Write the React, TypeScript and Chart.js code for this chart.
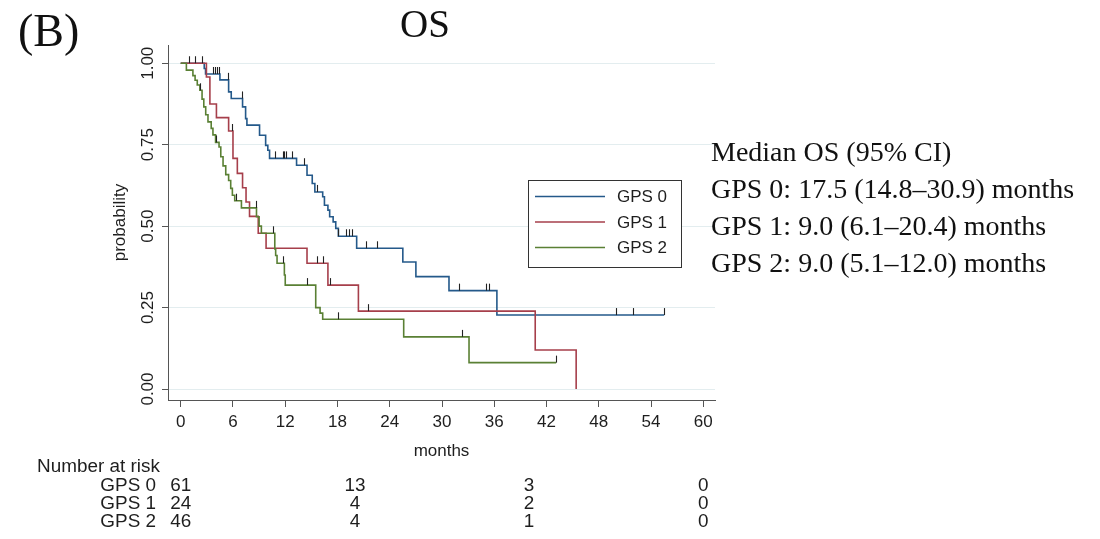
import React, { useEffect, useRef } from 'react';
import { Chart, registerables } from 'chart.js';

Chart.register(...registerables);

const SANS = "'Liberation Sans', Arial, sans-serif";
const SERIF = "'Liberation Serif', 'Times New Roman', serif";
const FS = 17;
const RISK_FS = 17.5;
const RISK_SX = 1.08;

// ---------- data ----------
const seriesNames = ['GPS 0', 'GPS 1', 'GPS 2'];

const gps0Times = [0, 2.7, 2.85, 4.5, 5.5, 5.8, 7.1, 7.45, 7.6, 9.05, 9.75, 10.0, 10.2, 13.3, 14.5, 15.1, 15.4, 16.3, 16.5, 16.9, 17.1, 17.5, 17.8, 18.1, 20.2, 25.5, 27.0, 30.8, 36.3];
const gps0Surv = [1, 0.984, 0.967, 0.949, 0.912, 0.892, 0.866, 0.83, 0.81, 0.779, 0.748, 0.733, 0.708, 0.687, 0.656, 0.631, 0.605, 0.59, 0.564, 0.549, 0.529, 0.513, 0.493, 0.469, 0.432, 0.39, 0.345, 0.302, 0.227];
const gps0End = 55.5;
const gps0Censor = [0.95, 1.6, 2.4, 3.7, 3.95, 4.15, 4.35, 5.4, 7.0, 10.8, 11.7, 11.9, 12.1, 12.8, 14.2, 15.6, 18.1, 19.0, 19.3, 19.7, 21.3, 22.5, 32.0, 35.1, 35.4, 50.0, 51.9, 55.5];

const gps1Times = [0, 2.95, 3.35, 4.1, 5.5, 6.0, 6.5, 7.1, 7.5, 7.9, 8.9, 9.8, 14.5, 16.9, 20.4, 40.7, 45.4];
const gps1Surv = [1, 0.958, 0.875, 0.833, 0.792, 0.708, 0.662, 0.618, 0.574, 0.53, 0.478, 0.432, 0.386, 0.319, 0.239, 0.12, 0];
const gps1End = 45.4;
const gps1Censor = [5.9, 15.6, 16.3, 17.1, 21.5];

const gps2Times = [0, 0.65, 1.4, 1.65, 1.9, 2.2, 2.45, 2.65, 2.87, 3.13, 3.5, 3.7, 4.0, 4.4, 4.6, 4.86, 5.17, 5.5, 5.74, 5.93, 6.2, 6.97, 8.7, 9.0, 9.26, 10.8, 10.9, 11.06, 11.9, 12.0, 15.5, 16.0, 16.3, 25.6, 33.1];
const gps2Surv = [1, 0.979, 0.962, 0.948, 0.933, 0.917, 0.89, 0.866, 0.842, 0.82, 0.8, 0.78, 0.757, 0.743, 0.713, 0.685, 0.658, 0.64, 0.616, 0.595, 0.578, 0.556, 0.529, 0.5, 0.478, 0.43, 0.41, 0.386, 0.35, 0.319, 0.25, 0.233, 0.214, 0.16, 0.081];
const gps2End = 43.1;
const gps2Censor = [2.25, 4.1, 6.4, 8.65, 10.6, 11.8, 14.5, 18.1, 32.3, 43.1];

const xTicks = [0, 6, 12, 18, 24, 30, 36, 42, 48, 54, 60];
const xTickLabels = ['0', '6', '12', '18', '24', '30', '36', '42', '48', '54', '60'];
const yTicks = [0, 0.25, 0.5, 0.75, 1];
const yTickLabels = ['0.00', '0.25', '0.50', '0.75', '1.00'];

const riskTimes = [0, 20, 40, 60];
const riskGps0 = [61, 13, 3, 0];
const riskGps1 = [24, 4, 2, 0];
const riskGps2 = [46, 4, 1, 0];

const medianLines = [
  'Median OS (95% CI)',
  'GPS 0: 17.5 (14.8–30.9) months',
  'GPS 1: 9.0 (6.1–20.4) months',
  'GPS 2: 9.0 (5.1–12.0) months',
];

// ---------- styles ----------
const colors = ['#24598a', '#a63f4b', '#5a8034'];
const TEXT = '#1e1e1e';
const AXIS = '#555555';

const groups = [
  { times: gps0Times, surv: gps0Surv, end: gps0End, censor: gps0Censor, risk: riskGps0 },
  { times: gps1Times, surv: gps1Surv, end: gps1End, censor: gps1Censor, risk: riskGps1 },
  { times: gps2Times, surv: gps2Surv, end: gps2End, censor: gps2Censor, risk: riskGps2 },
];

function survAt(times: number[], surv: number[], t: number) {
  let v = surv[0];
  for (let i = 0; i < times.length; i++) {
    if (times[i] <= t) v = surv[i];
  }
  return v;
}

const censorPlugin = {
  id: 'censorMarks',
  afterDatasetsDraw(chart: any) {
    const { ctx, scales } = chart;
    ctx.save();
    ctx.strokeStyle = '#222';
    ctx.lineWidth = 1.1;
    groups.forEach((g) => {
      g.censor.forEach((t) => {
        const px = Math.round(scales.x.getPixelForValue(t)) + 0.5;
        const py = scales.y.getPixelForValue(survAt(g.times, g.surv, t));
        ctx.beginPath();
        ctx.moveTo(px, py - 7);
        ctx.lineTo(px, py);
        ctx.stroke();
      });
    });
    ctx.restore();
  },
};

const legendPlugin = {
  id: 'boxLegend',
  afterDraw(chart: any) {
    const { ctx } = chart;
    const left = 528, top = 180, w = 153, h = 87;
    ctx.save();
    ctx.fillStyle = '#ffffff';
    ctx.fillRect(left, top, w, h);
    ctx.strokeStyle = '#333';
    ctx.lineWidth = 1;
    ctx.strokeRect(left + 0.5, top + 0.5, w, h);
    ctx.font = `${FS}px ${SANS}`;
    ctx.textBaseline = 'middle';
    ctx.textAlign = 'left';
    seriesNames.forEach((name, i) => {
      const y = top + 16.5 + i * 25.5;
      ctx.strokeStyle = colors[i];
      ctx.lineWidth = 1.5;
      ctx.beginPath();
      ctx.moveTo(left + 7, y);
      ctx.lineTo(left + 77, y);
      ctx.stroke();
      ctx.fillStyle = TEXT;
      ctx.fillText(name, left + 89, y + 1);
    });
    ctx.restore();
  },
};

function stretchedText(ctx: CanvasRenderingContext2D, text: string, x: number, y: number, align: CanvasTextAlign) {
  ctx.save();
  ctx.translate(x, y);
  ctx.scale(RISK_SX, 1);
  ctx.textAlign = align;
  ctx.fillText(text, 0, 0);
  ctx.restore();
}

const riskPlugin = {
  id: 'riskTable',
  afterDraw(chart: any) {
    const { ctx, scales } = chart;
    ctx.save();
    ctx.font = `${RISK_FS}px ${SANS}`;
    ctx.fillStyle = TEXT;
    ctx.textBaseline = 'middle';
    stretchedText(ctx, 'Number at risk', 37, 467, 'left');
    groups.forEach((g, i) => {
      const y = 486 + i * 18;
      stretchedText(ctx, seriesNames[i], 156, y, 'right');
      g.risk.forEach((n, j) => {
        stretchedText(ctx, String(n), scales.x.getPixelForValue(riskTimes[j]), y, 'center');
      });
    });
    ctx.restore();
  },
};

export default function App() {
  const ref = useRef<HTMLCanvasElement | null>(null);

  useEffect(() => {
    if (!ref.current) return;
    const datasets = groups.map((g, i) => ({
      label: seriesNames[i],
      data: [
        ...g.times.map((t, k) => ({ x: t, y: g.surv[k] })),
        { x: g.end, y: g.surv[g.surv.length - 1] },
      ],
      borderColor: colors[i],
      borderWidth: 1.6,
      pointRadius: 0,
      fill: false,
      stepped: 'before' as const,
      order: 3 - i,
    }));

    const chart = new Chart(ref.current, {
      type: 'line',
      data: { datasets },
      plugins: [censorPlugin, legendPlugin, riskPlugin],
      options: {
        animation: false,
        responsive: false,
        events: [],
        layout: { padding: { left: 100, top: 45, right: 385, bottom: 77 } },
        plugins: { legend: { display: false }, tooltip: { enabled: false }, title: { display: false } },
        scales: {
          x: {
            type: 'linear',
            min: -1.46,
            max: 61.34,
            afterBuildTicks: (s: any) => { s.ticks = xTicks.map((v) => ({ value: v })); },
            afterFit: (s: any) => { s.height = 62; },
            ticks: {
              autoSkip: false,
              maxRotation: 0,
              padding: 5,
              color: TEXT,
              font: { family: SANS, size: FS },
              callback: (_v: any, i: number) => xTickLabels[i],
            },
            grid: { drawOnChartArea: false, drawTicks: true, tickLength: 7, tickColor: AXIS, tickWidth: 1 },
            border: { display: true, color: AXIS, width: 1 },
            title: {
              display: true,
              text: 'months',
              color: TEXT,
              font: { family: SANS, size: FS, lineHeight: 1.2 },
              padding: { top: 0, bottom: 0 },
            },
          },
          y: {
            type: 'linear',
            min: -0.0337,
            max: 1.056,
            afterBuildTicks: (s: any) => { s.ticks = yTicks.map((v) => ({ value: v })); },
            afterFit: (s: any) => { s.width = 68; },
            ticks: {
              autoSkip: false,
              minRotation: 90,
              maxRotation: 90,
              crossAlign: 'center',
              padding: -2.5,
              color: TEXT,
              font: { family: SANS, size: FS },
              callback: (_v: any, i: number) => yTickLabels[i],
            },
            grid: { color: '#e3edef', lineWidth: 1, drawTicks: true, tickLength: 6, tickColor: AXIS, tickWidth: 1 },
            border: { display: true, color: AXIS, width: 1 },
            title: {
              display: true,
              text: 'probability',
              color: TEXT,
              font: { family: SANS, size: FS, lineHeight: 1.2 },
              padding: { top: 10, bottom: 0 },
            },
          },
        },
      },
    } as any);
    return () => chart.destroy();
  }, []);

  return (
    <div style={{ position: 'relative', left: -8, top: -8, width: 1100, height: 539, background: '#fff', overflow: 'hidden' }}>
      <canvas ref={ref} width={1100} height={539} style={{ position: 'absolute', left: 0, top: 0, width: 1100, height: 539 }} />
      <div style={{ position: 'absolute', left: 325, width: 200, top: 4, textAlign: 'center', fontFamily: SERIF, fontSize: 39, lineHeight: '39px', color: '#111' }}>OS</div>
      <div style={{ position: 'absolute', left: 18, top: 8, fontFamily: SERIF, fontSize: 46, lineHeight: '46px', color: '#111' }}>(B)</div>
      <div style={{ position: 'absolute', left: 711, top: 133, fontFamily: SERIF, fontSize: 28, lineHeight: '37px', color: '#111', whiteSpace: 'nowrap' }}>
        {medianLines.map((l, i) => (<div key={i}>{l}</div>))}
      </div>
    </div>
  );
}
